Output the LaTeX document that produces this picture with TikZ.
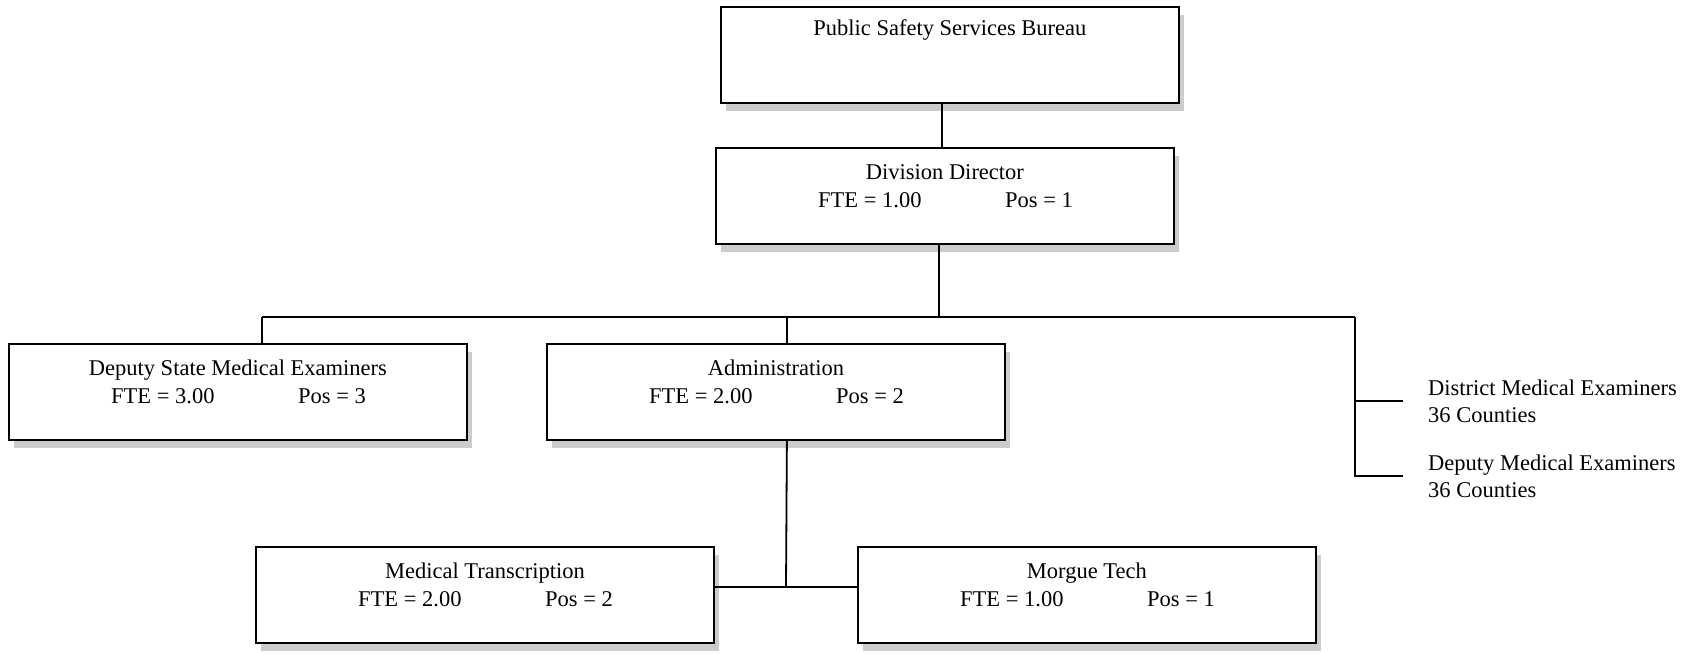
\documentclass[tikz,border=0pt]{standalone}
\usepackage{fontspec}
\setmainfont{Liberation Serif}
\usetikzlibrary{shadows}

% One unit box: name, x, y (top-left corner), title, FTE text, position text
\newcommand\unitbox[6]{%
  \node[orgbox] (#1) at (#2,#3) {};
  \node[lbl, anchor=base] (#1-t) at ([yshift=-32pt]#1.north) {#4};
  \node[lbl, anchor=base west] (#1-f) at ([xshift=103pt,yshift=-60pt]#1.north west) {#5};
  \node[lbl, anchor=base west] (#1-p) at ([xshift=290pt,yshift=-60pt]#1.north west) {#6};
}

\begin{document}
\begin{tikzpicture}[x=1pt,y=-1pt,
  orgbox/.style={draw=black, line width=1.8pt, fill=white,
    minimum width=458pt, minimum height=96pt, inner sep=0pt, anchor=north west,
    drop shadow={shadow xshift=5pt, shadow yshift=-8pt, fill=black!20, opacity=1}},
  wire/.style={draw=black, line width=1.8pt},
  lbl/.style={inner sep=0pt, font=\fontsize{22.5}{27}\selectfont}
]
\useasboundingbox[fill=white] (0,0) rectangle (1686,653);

% boxes
\node[orgbox] (psb) at (720,6) {};
\node[lbl, anchor=base] (psb-t) at ([yshift=-29pt]psb.north) {Public Safety Services Bureau};

\unitbox{dir}{715}{147}{Division Director}{FTE = 1.00}{Pos = 1}
\unitbox{dsme}{8}{343}{Deputy State Medical Examiners}{FTE = 3.00}{Pos = 3}
\unitbox{adm}{546}{343}{Administration}{FTE = 2.00}{Pos = 2}
\unitbox{mtr}{255}{546}{Medical Transcription}{FTE = 2.00}{Pos = 2}
\unitbox{mgt}{857}{546}{Morgue Tech}{FTE = 1.00}{Pos = 1}

% county-level examiners
\node[lbl, anchor=west, align=left] (dme) at (1428,401) {District Medical Examiners\\36 Counties};
\node[lbl, anchor=west, align=left] (deme) at (1428,476) {Deputy Medical Examiners\\36 Counties};

% connectors
\coordinate (busL) at (262,317);
\coordinate (busR) at (1355,317);
\coordinate (join) at (786,587);

\draw[wire] ([xshift=-8pt]psb.south) -- ([xshift=-3pt]dir.north);
\draw[wire] ([xshift=-6pt]dir.south) -- ([xshift=-6pt]dir.south |- busL);
\draw[wire] (busL) -- (busR);
\draw[wire] (busL) -- (busL |- dsme.north);
\draw[wire] ([xshift=11pt]adm.north) -- ([xshift=11pt]adm.north |- busL);
\draw[wire] (busR) |- ([xshift=-25pt]dme.west);
\draw[wire] (busR) |- ([xshift=-25pt]deme.west);
\draw[wire] ([xshift=11pt]adm.south) -- (join);
\draw[wire] (mtr.east |- join) -- (mgt.west |- join);
\end{tikzpicture}
\end{document}
